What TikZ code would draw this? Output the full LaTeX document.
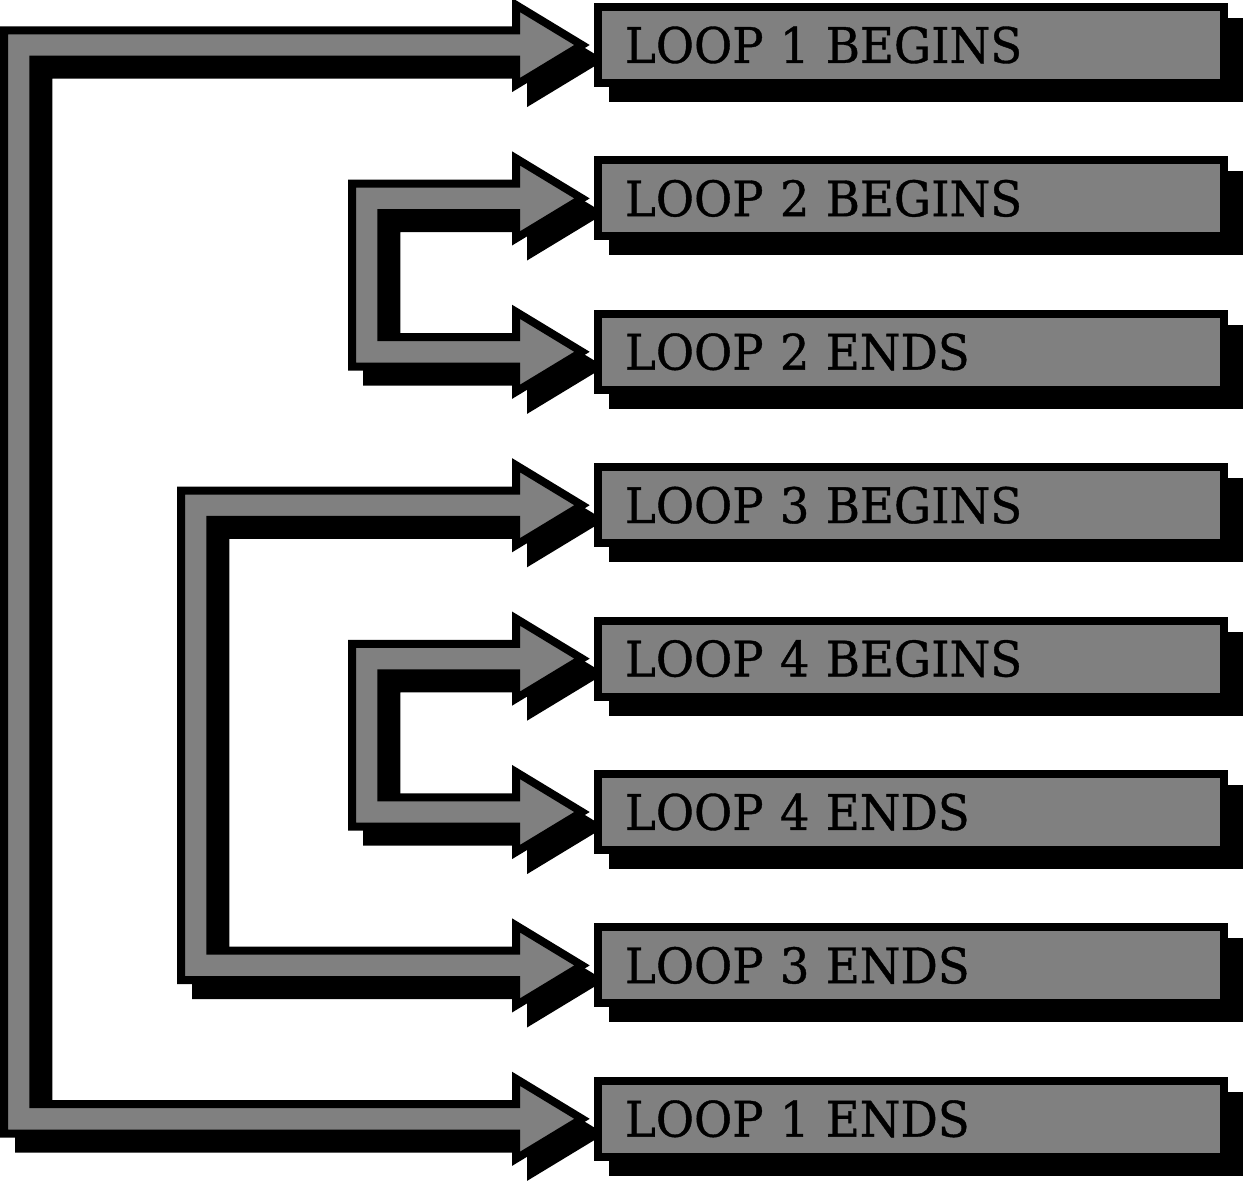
\documentclass[tikz,border=0pt]{standalone}
\usepackage{fontspec}
\setmainfont{DejaVu Serif}[FakeStretch=0.95,FakeBold=0.8]
\usetikzlibrary{calc}
\definecolor{midgray}{HTML}{808080}
\tikzset{
  box/.style={draw=black, fill=midgray, line width=8pt, minimum width=626pt,
    minimum height=76pt, inner xsep=27pt, inner ysep=0pt, outer sep=0pt,
    text width=572pt, align=left, font=\fontsize{49}{50}\selectfont},
  boxshadow/.style={fill=black},
  band/.style={draw=black, fill=midgray, line width=8pt, line join=miter, miter limit=10},
  bandshadow/.style={draw=black, fill=black, line width=8pt, line join=miter, miter limit=10},
}
\def\bw{14.7}
% #1 style, #2 x offset of outer left edge from top node west, #3 top node, #4 bottom node, #5 shift
\newcommand\loopband[5]{%
  \path[#1]
    ($(#3.west)+({#2+#5},{-\bw+#5})$) --
    ($(#3.west)+({-82+#5},{-\bw+#5})$) --
    ($(#3.west)+({-82+#5},{-40+#5})$) --
    ($(#3.west)+({-16+#5},{#5})$) --
    ($(#3.west)+({-82+#5},{40+#5})$) --
    ($(#3.west)+({-82+#5},{\bw+#5})$) --
    ($(#3.west)+({#2+2*\bw+#5},{\bw+#5})$) --
    ($(#4.west)+({#2+2*\bw+#5},{-\bw+#5})$) --
    ($(#4.west)+({-82+#5},{-\bw+#5})$) --
    ($(#4.west)+({-82+#5},{-40+#5})$) --
    ($(#4.west)+({-16+#5},{#5})$) --
    ($(#4.west)+({-82+#5},{40+#5})$) --
    ($(#4.west)+({-82+#5},{\bw+#5})$) --
    ($(#4.west)+({#2+#5},{\bw+#5})$) -- cycle;
}
\newcommand\boxshadow[1]{%
  \fill[boxshadow] ($(#1.north west)+(11,11)$) rectangle ($(#1.south east)+(19,19)$);
}
\begin{document}
\begin{tikzpicture}[x=1pt,y=-1pt]
\useasboundingbox (0,0) rectangle (1243,1181);
% boxes (placed first to get their names)
\path
  node[box] (b1) at (911,45.0) {LOOP 1 BEGINS}
  node[box] (b2) at (911,198.4) {LOOP 2 BEGINS}
  node[box] (b3) at (911,351.8) {LOOP 2 ENDS}
  node[box] (b4) at (911,505.2) {LOOP 3 BEGINS}
  node[box] (b5) at (911,658.6) {LOOP 4 BEGINS}
  node[box] (b6) at (911,812.0) {LOOP 4 ENDS}
  node[box] (b7) at (911,965.4) {LOOP 3 ENDS}
  node[box] (b8) at (911,1118.8) {LOOP 1 ENDS};
% shadows
\foreach \b in {b1,b2,b3,b4,b5,b6,b7,b8} {\boxshadow{\b}}
\loopband{bandshadow}{-594}{b1}{b8}{15}
\loopband{bandshadow}{-246}{b2}{b3}{15}
\loopband{bandshadow}{-417}{b4}{b7}{15}
\loopband{bandshadow}{-246}{b5}{b6}{15}
% bands
\loopband{band}{-594}{b1}{b8}{0}
\loopband{band}{-246}{b2}{b3}{0}
\loopband{band}{-417}{b4}{b7}{0}
\loopband{band}{-246}{b5}{b6}{0}
% boxes on top
\path
  node[box] at (b1) {LOOP 1 BEGINS}
  node[box] at (b2) {LOOP 2 BEGINS}
  node[box] at (b3) {LOOP 2 ENDS}
  node[box] at (b4) {LOOP 3 BEGINS}
  node[box] at (b5) {LOOP 4 BEGINS}
  node[box] at (b6) {LOOP 4 ENDS}
  node[box] at (b7) {LOOP 3 ENDS}
  node[box] at (b8) {LOOP 1 ENDS};
\end{tikzpicture}
\end{document}
